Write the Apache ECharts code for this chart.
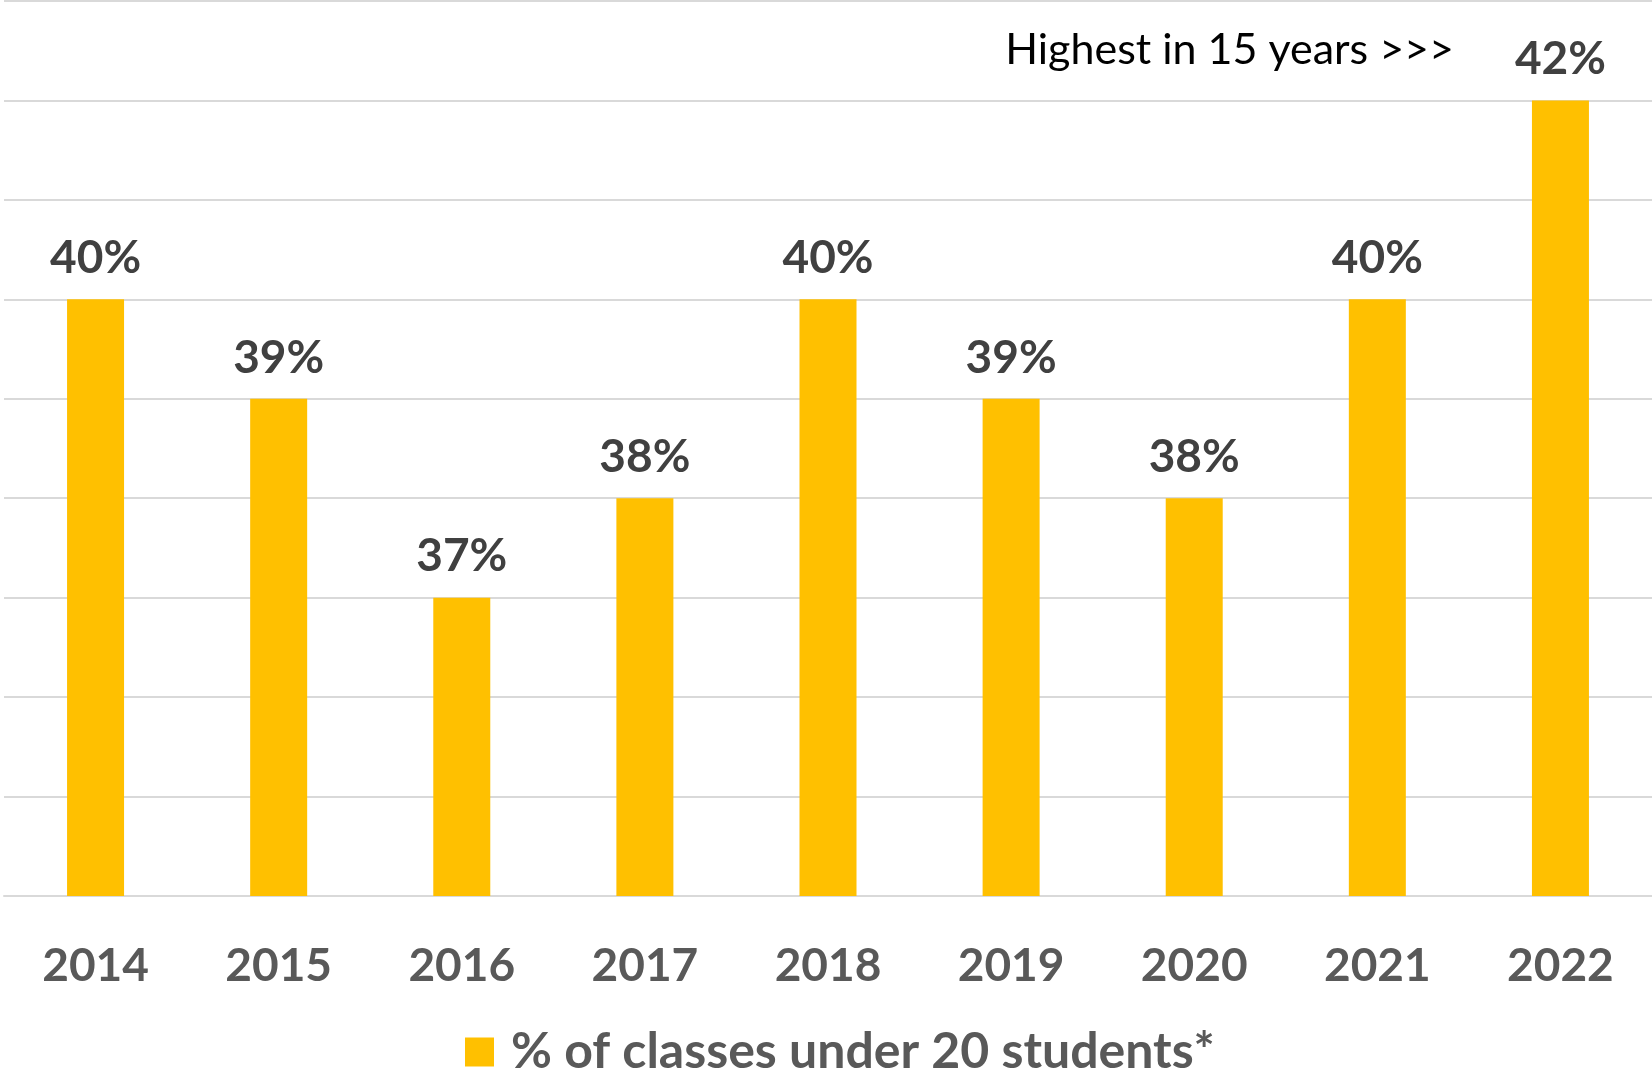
<!DOCTYPE html>
<html>
<head>
<meta charset="utf-8">
<script src="https://cdn.jsdelivr.net/npm/echarts@6/dist/echarts.min.js"></script>
<style>
    html, body { margin: 0; padding: 0; background: #fff; }
    #chart { width: 1652px; height: 1073px; }
</style>
</head>
<body>
<div id="chart"></div>
<script>
var years = ["2014", "2015", "2016", "2017", "2018", "2019", "2020", "2021", "2022"];
var shares = [40, 39, 37, 38, 40, 39, 38, 40, 42];
var seriesName = "% of classes under 20 students*";
var note = "Highest in 15 years >>>";

var myChart = echarts.init(document.getElementById("chart"));
myChart.setOption({
    animation: false,
    textStyle: { fontFamily: "Lato" },
    grid: {
        left: 4,
        right: 0,
        top: 1,
        bottom: 177,
        containLabel: false
    },
    legend: {
        data: [seriesName],
        left: 460,
        top: 1022,
        itemWidth: 29,
        itemHeight: 29,
        icon: "rect",
        textStyle: {
            fontSize: 50,
            fontWeight: "bold",
            color: "#595959",
            fontFamily: "Lato",
            padding: [0, 0, 0, 12]
        }
    },
    xAxis: {
        type: "category",
        data: years,
        axisLine: { show: true, lineStyle: { color: "#D9D9D9", width: 2 } },
        axisTick: { show: false },
        axisLabel: {
            margin: 47,
            fontSize: 46,
            fontWeight: "bold",
            color: "#595959",
            fontFamily: "Lato"
        }
    },
    yAxis: {
        type: "value",
        min: 34,
        max: 43,
        interval: 1,
        axisLabel: { show: false },
        axisLine: { show: false },
        axisTick: { show: false },
        splitLine: { lineStyle: { color: "#D9D9D9", width: 2 } }
    },
    graphic: [
        {
            type: "text",
            right: 198,
            top: 29,
            style: {
                text: note,
                fontSize: 43,
                fontFamily: "Lato",
                fill: "#000000"
            }
        }
    ],
    series: [
        {
            name: seriesName,
            type: "bar",
            data: shares,
            barWidth: 57,
            itemStyle: { color: "#FFC000" },
            label: {
                show: true,
                position: "top",
                distance: 18,
                formatter: "{c}%",
                fontSize: 46,
                fontWeight: "bold",
                color: "#404040",
                fontFamily: "Lato"
            }
        }
    ]
});
</script>
</body>
</html>
